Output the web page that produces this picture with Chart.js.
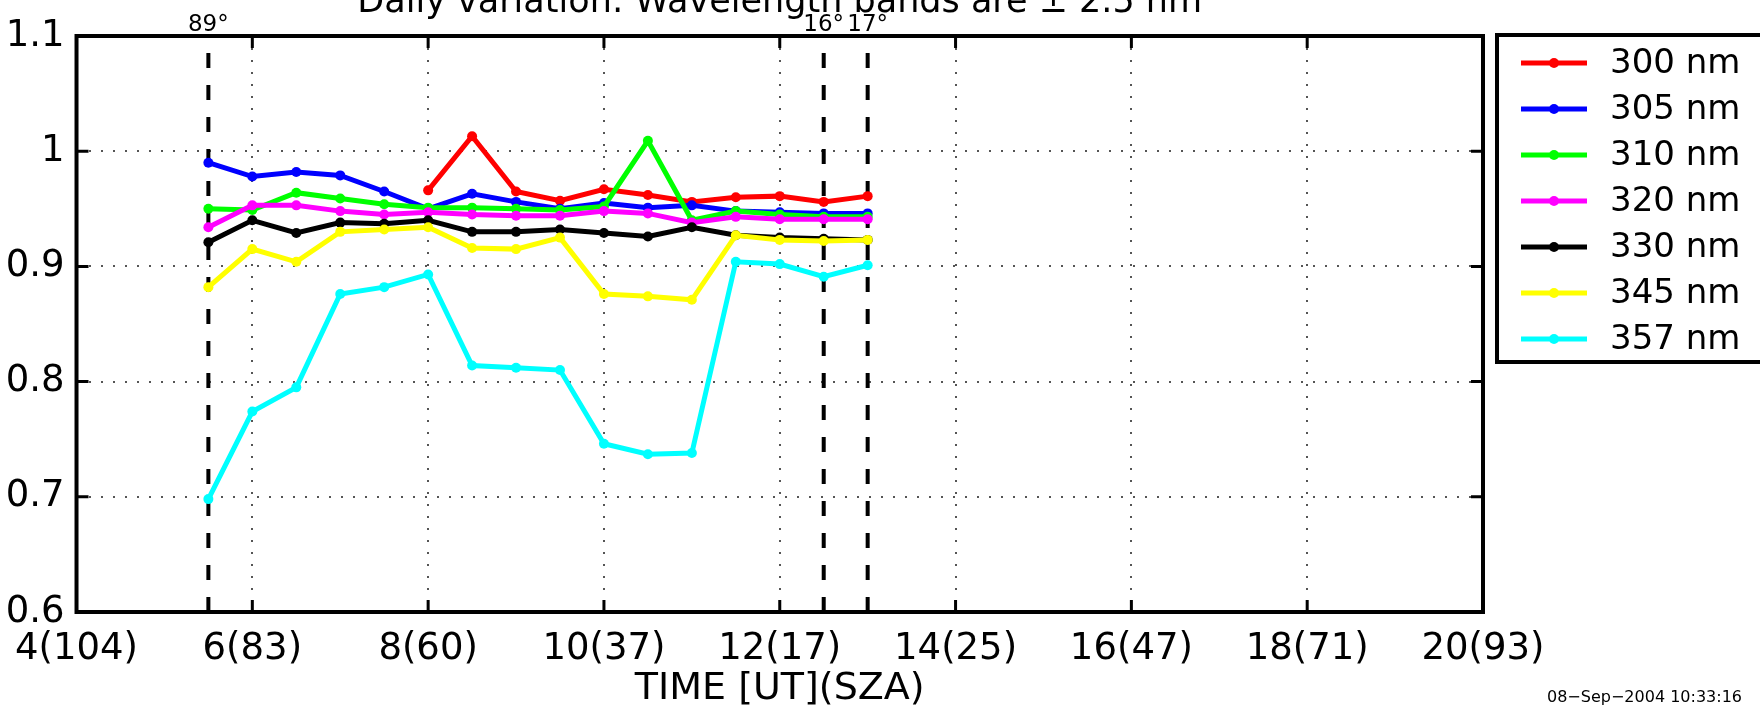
<!DOCTYPE html>
<html>
<head>
<meta charset="utf-8">
<script src="https://cdn.jsdelivr.net/npm/chart.js@4.4.1/dist/chart.umd.min.js"></script>
<style>
  html, body { margin: 0; padding: 0; background: #fff; }
  #wrap { width: 1760px; height: 707px; }
</style>
</head>
<body>
<div id="wrap"><canvas id="uvChart" width="1760" height="707"></canvas></div>
<script>
// time of each measurement, UT hours
const times = [5.5, 6, 6.5, 7, 7.5, 8, 8.5, 9, 9.5, 10, 10.5, 11, 11.5, 12, 12.5, 13];

// ratios per wavelength band
const wl300 = [null, null, null, null, null, 0.966, 1.013, 0.965, 0.957, 0.967, 0.962, 0.956, 0.960, 0.961, 0.956, 0.961];
const wl305 = [0.990, 0.978, 0.982, 0.979, 0.965, 0.950, 0.963, 0.956, 0.950, 0.955, 0.951, 0.953, 0.948, 0.947, 0.946, 0.946];
const wl310 = [0.950, 0.949, 0.964, 0.959, 0.954, 0.951, 0.951, 0.950, 0.949, 0.952, 1.009, 0.940, 0.948, 0.945, 0.943, 0.943];
const wl320 = [0.934, 0.953, 0.953, 0.948, 0.945, 0.947, 0.945, 0.944, 0.944, 0.948, 0.946, 0.938, 0.943, 0.941, 0.941, 0.941];
const wl330 = [0.921, 0.940, 0.929, 0.938, 0.937, 0.940, 0.930, 0.930, 0.932, 0.929, 0.926, 0.934, 0.927, 0.925, 0.924, 0.923];
const wl345 = [0.882, 0.915, 0.904, 0.930, 0.932, 0.934, 0.916, 0.915, 0.925, 0.876, 0.874, 0.871, 0.927, 0.923, 0.922, 0.923];
const wl357 = [0.698, 0.774, 0.795, 0.876, 0.882, 0.893, 0.814, 0.812, 0.810, 0.746, 0.737, 0.738, 0.904, 0.902, 0.891, 0.901];

const bandNames = ['300 nm', '305 nm', '310 nm', '320 nm', '330 nm', '345 nm', '357 nm'];
const bandColors = ['#ff0000', '#0000ff', '#00ff00', '#ff00ff', '#000000', '#ffff00', '#00ffff'];
const bandValues = [wl300, wl305, wl310, wl320, wl330, wl345, wl357];

const xTickValues = [4, 6, 8, 10, 12, 14, 16, 18, 20];
const xTickLabels = ['4(104)', '6(83)', '8(60)', '10(37)', '12(17)', '14(25)', '16(47)', '18(71)', '20(93)'];
const yTickLabels = ['0.6', '0.7', '0.8', '0.9', '1', '1.1'];

// solar zenith angle markers
const szaTimes = [5.5, 12.5, 13];
const szaLabels = ['89°', '16°', '17°'];

const titleText = 'Daily variation: Wavelength bands are \u00b1 2.5 nm';
const stampText = '08\u2212Sep\u22122004 10:33:16';

const FONT = '"DejaVu Sans", "Liberation Sans", Arial, sans-serif';
Chart.defaults.font.family = FONT;
Chart.defaults.color = '#000';

const datasets = bandValues.map((vals, i) => ({
    label: bandNames[i],
    data: times.map((t, j) => ({ x: t, y: vals[j] })),
    borderColor: bandColors[i],
    backgroundColor: bandColors[i],
    borderWidth: 5,
    pointRadius: 5,
    pointBorderWidth: 0,
    pointHoverRadius: 5,
    spanGaps: false,
    order: bandValues.length - i
}));

const extras = {
    id: 'extras',
    beforeDatasetsDraw(chart) {
        const { ctx, chartArea: a, scales: { x } } = chart;
        ctx.save();
        ctx.strokeStyle = '#000';
        ctx.lineWidth = 4;
        ctx.setLineDash([15, 17]);
        ctx.lineDashOffset = 15;
        szaTimes.forEach(t => {
            const px = x.getPixelForValue(t);
            ctx.beginPath();
            ctx.moveTo(px, a.top);
            ctx.lineTo(px, a.bottom);
            ctx.stroke();
        });
        ctx.restore();
    },
    afterDraw(chart) {
        const { ctx, chartArea: a, scales: { x, y } } = chart;
        ctx.save();

        // frame and inward ticks
        ctx.strokeStyle = '#000';
        ctx.lineWidth = 4;
        ctx.strokeRect(a.left, a.top, a.right - a.left, a.bottom - a.top);
        ctx.lineWidth = 3;
        ctx.beginPath();
        xTickValues.forEach(v => {
            const px = x.getPixelForValue(v);
            ctx.moveTo(px, a.top); ctx.lineTo(px, a.top + 12);
            ctx.moveTo(px, a.bottom); ctx.lineTo(px, a.bottom - 12);
        });
        yTickLabels.forEach((_, i) => {
            const py = y.getPixelForValue(0.6 + i * 0.1);
            ctx.moveTo(a.left, py); ctx.lineTo(a.left + 12, py);
            ctx.moveTo(a.right, py); ctx.lineTo(a.right - 12, py);
        });
        ctx.stroke();

        // SZA labels
        ctx.fillStyle = '#000';
        ctx.font = '23px ' + FONT;
        ctx.textAlign = 'center';
        ctx.textBaseline = 'alphabetic';
        szaTimes.forEach((t, i) => {
            ctx.fillText(szaLabels[i], x.getPixelForValue(t), 31);
        });

        // title, clipped at the top
        ctx.font = '35px ' + FONT;
        ctx.fillText(titleText, (a.left + a.right) / 2, 12);

        // timestamp
        ctx.font = '16px ' + FONT;
        ctx.textAlign = 'right';
        ctx.fillText(stampText, 1742, 702);

        // legend
        ctx.strokeStyle = '#000';
        ctx.lineWidth = 4;
        ctx.strokeRect(1497, 35, 300, 327);
        ctx.font = '34px ' + FONT;
        ctx.textAlign = 'left';
        ctx.textBaseline = 'middle';
        bandNames.forEach((name, i) => {
            const ry = 63 + i * 46;
            ctx.strokeStyle = bandColors[i];
            ctx.lineWidth = 5;
            ctx.beginPath();
            ctx.moveTo(1521, ry); ctx.lineTo(1587, ry);
            ctx.stroke();
            ctx.fillStyle = bandColors[i];
            ctx.beginPath();
            ctx.arc(1554, ry, 5, 0, Math.PI * 2);
            ctx.fill();
            ctx.fillStyle = '#000';
            ctx.fillText(name, 1610, ry + 1);
        });
        ctx.restore();
    }
};

new Chart(document.getElementById('uvChart'), {
    type: 'line',
    data: { datasets },
    plugins: [extras],
    options: {
        responsive: false,
        devicePixelRatio: 1,
        animation: false,
        layout: { padding: { top: 36, right: 277, left: 0, bottom: 0 } },
        plugins: { legend: { display: false }, tooltip: { enabled: false } },
        scales: {
            x: {
                type: 'linear',
                min: 4,
                max: 20,
                afterFit: s => { s.height = 95; },
                border: { display: false, dash: [2, 10] },
                grid: { color: '#555', lineWidth: 2, drawTicks: false },
                ticks: {
                    stepSize: 2,
                    autoSkip: false,
                    maxRotation: 0,
                    padding: 15,
                    font: { size: 37 },
                    callback: v => xTickLabels[xTickValues.indexOf(v)]
                },
                title: { display: true, text: 'TIME [UT](SZA)', font: { size: 38 }, padding: { top: 0, bottom: -5 } }
            },
            y: {
                min: 0.6,
                max: 1.1,
                afterFit: s => { s.width = 75; },
                border: { display: false, dash: [2, 10] },
                grid: { color: '#555', lineWidth: 2, drawTicks: false },
                ticks: {
                    stepSize: 0.1,
                    padding: 12,
                    font: { size: 37 },
                    callback: v => yTickLabels[Math.round((v - 0.6) * 10)]
                }
            }
        }
    }
});
</script>
</body>
</html>
